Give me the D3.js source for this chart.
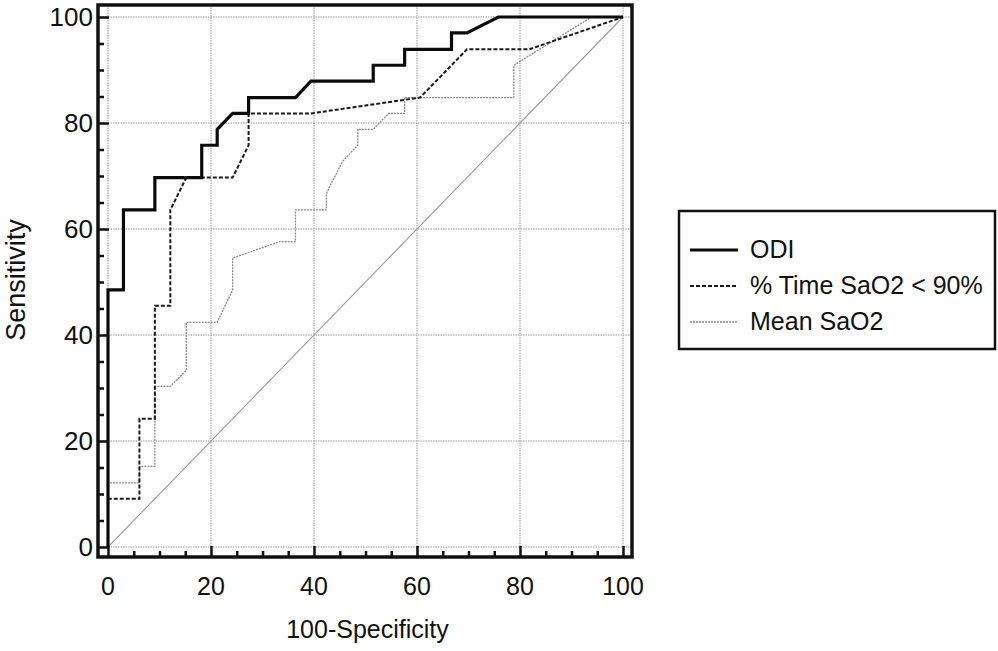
<!DOCTYPE html>
<html>
<head>
<meta charset="utf-8">
<script src="https://cdn.jsdelivr.net/npm/d3@7"></script>
<style>
  html, body { margin: 0; padding: 0; background: #fff; }
  svg { display: block; font-family: "Liberation Sans", Arial, Helvetica, sans-serif; }
</style>
</head>
<body>
<svg id="chart" width="998" height="651"></svg>
<script>
// ROC curves: sensitivity vs. 100-specificity for three oximetry indices
const seriesNames = ["ODI", "% Time SaO2 < 90%", "Mean SaO2"];

const odiFpr  = [0, 0, 3.0, 3.0, 9.1, 9.1, 18.2, 18.2, 21.2, 21.2, 24.2, 27.3, 27.3, 36.4, 39.4, 51.5, 51.5, 57.6, 57.6, 66.7, 66.7, 69.7, 75.8, 100];
const odiSens = [0, 48.5, 48.5, 63.6, 63.6, 69.7, 69.7, 75.8, 75.8, 78.8, 81.8, 81.8, 84.8, 84.8, 87.9, 87.9, 90.9, 90.9, 93.9, 93.9, 97.0, 97.0, 100, 100];

const timeFpr  = [0, 0, 6.1, 6.1, 9.1, 9.1, 12.1, 12.1, 15.2, 24.2, 27.3, 27.3, 39.4, 60.6, 69.7, 81.8, 100];
const timeSens = [0, 9.1, 9.1, 24.2, 24.2, 45.5, 45.5, 63.6, 69.7, 69.7, 75.8, 81.8, 81.8, 84.8, 93.9, 93.9, 100];

const meanFpr  = [0, 0, 6.1, 6.1, 9.1, 9.1, 12.1, 15.2, 15.2, 21.2, 24.2, 24.2, 33.3, 36.4, 36.4, 42.4, 42.4, 45.5, 48.5, 48.5, 51.5, 54.5, 57.6, 57.6, 78.8, 78.8, 93.9, 100];
const meanSens = [0, 12.1, 12.1, 15.2, 15.2, 30.3, 30.3, 33.3, 42.4, 42.4, 48.5, 54.5, 57.6, 57.6, 63.6, 63.6, 66.7, 72.7, 75.8, 78.8, 78.8, 81.8, 81.8, 84.8, 84.8, 90.9, 100, 100];

const majorTicks = [0, 20, 40, 60, 80, 100];
const minorTicks = [5, 10, 15, 25, 30, 35, 45, 50, 55, 65, 70, 75, 85, 90, 95];

const svg = d3.select("#chart");
const FONT = 25;

// Plot frame and scales
const frame = { left: 98, right: 632, top: 5, bottom: 557 };
const x = d3.scaleLinear().domain([0, 100]).range([108, 623]);
const y = d3.scaleLinear().domain([0, 100]).range([547, 17]);

// Grid
const grid = svg.append("g").attr("stroke", "#9a9a9a").attr("stroke-width", 1).attr("stroke-dasharray", "1.5,1");
grid.selectAll("line.v").data(majorTicks).join("line")
  .attr("x1", d => x(d)).attr("x2", d => x(d))
  .attr("y1", frame.top).attr("y2", frame.bottom);
grid.selectAll("line.h").data(majorTicks).join("line")
  .attr("y1", d => y(d)).attr("y2", d => y(d))
  .attr("x1", frame.left).attr("x2", frame.right);

// Chance diagonal
svg.append("line")
  .attr("x1", x(0)).attr("y1", y(0)).attr("x2", x(100)).attr("y2", y(100))
  .attr("stroke", "#9a9a9a").attr("stroke-width", 1.1);

// Curves
const line = d3.line().x(d => x(d[0])).y(d => y(d[1]));
const zip = (a, b) => a.map((v, i) => [v, b[i]]);
const styles = [
  { stroke: "#0a0a0a", width: 3.2, dash: null },
  { stroke: "#1a1a1a", width: 2, dash: "4,2" },
  { stroke: "#8a8a8a", width: 1.3, dash: "2,1" }
];
const curves = [zip(meanFpr, meanSens), zip(timeFpr, timeSens), zip(odiFpr, odiSens)];
const curveStyles = [styles[2], styles[1], styles[0]];
curves.forEach((pts, i) => {
  svg.append("path").datum(pts)
    .attr("d", line)
    .attr("fill", "none")
    .attr("stroke", curveStyles[i].stroke)
    .attr("stroke-width", curveStyles[i].width)
    .attr("stroke-dasharray", curveStyles[i].dash)
    .attr("stroke-linejoin", "miter");
});

// Axes with inward ticks
const xAxis = g => g.attr("transform", `translate(0,${frame.bottom})`);
const xMajor = svg.append("g").call(xAxis)
  .call(d3.axisTop(x).tickValues(majorTicks).tickSize(11).tickFormat(""));
const xMinor = svg.append("g").call(xAxis)
  .call(d3.axisTop(x).tickValues(minorTicks).tickSize(6).tickFormat(""));
const yMajor = svg.append("g").attr("transform", `translate(${frame.left},0)`)
  .call(d3.axisRight(y).tickValues(majorTicks).tickSize(11).tickFormat(""));
const yMinor = svg.append("g").attr("transform", `translate(${frame.left},0)`)
  .call(d3.axisRight(y).tickValues(minorTicks).tickSize(6).tickFormat(""));
[xMajor, xMinor, yMajor, yMinor].forEach(g => {
  g.select(".domain").remove();
  g.selectAll(".tick line").attr("stroke", "#111").attr("stroke-width", 2.5);
});

// Tick labels
svg.append("g").selectAll("text").data(majorTicks).join("text")
  .attr("x", d => x(d)).attr("y", 595)
  .attr("text-anchor", "middle").attr("font-size", FONT).attr("fill", "#111")
  .text(d => d);
svg.append("g").selectAll("text").data(majorTicks).join("text")
  .attr("x", 93).attr("y", d => y(d) + 9)
  .attr("text-anchor", "end").attr("font-size", 26).attr("fill", "#111")
  .text(d => d);

// Frame
svg.append("rect")
  .attr("x", frame.left).attr("y", frame.top)
  .attr("width", frame.right - frame.left).attr("height", frame.bottom - frame.top)
  .attr("fill", "none").attr("stroke", "#111").attr("stroke-width", 3.5);

// Axis titles
svg.append("text")
  .attr("x", x(50) + 2).attr("y", 638)
  .attr("text-anchor", "middle").attr("font-size", FONT).attr("fill", "#111")
  .text("100-Specificity");
svg.append("text")
  .attr("transform", `translate(25,280) rotate(-90)`)
  .attr("text-anchor", "middle").attr("font-size", 27).attr("fill", "#111")
  .text("Sensitivity");

// Legend
const legend = svg.append("g");
legend.append("rect")
  .attr("x", 679).attr("y", 211).attr("width", 316).attr("height", 138)
  .attr("fill", "#fff").attr("stroke", "#111").attr("stroke-width", 2.5);
const legendY = [250, 286, 322];
seriesNames.forEach((name, i) => {
  legend.append("line")
    .attr("x1", 690).attr("x2", 738).attr("y1", legendY[i]).attr("y2", legendY[i])
    .attr("stroke", styles[i].stroke).attr("stroke-width", styles[i].width)
    .attr("stroke-dasharray", styles[i].dash);
  legend.append("text")
    .attr("x", 750).attr("y", legendY[i] + 8)
    .attr("font-size", FONT).attr("fill", "#111")
    .text(name);
});
</script>
</body>
</html>
